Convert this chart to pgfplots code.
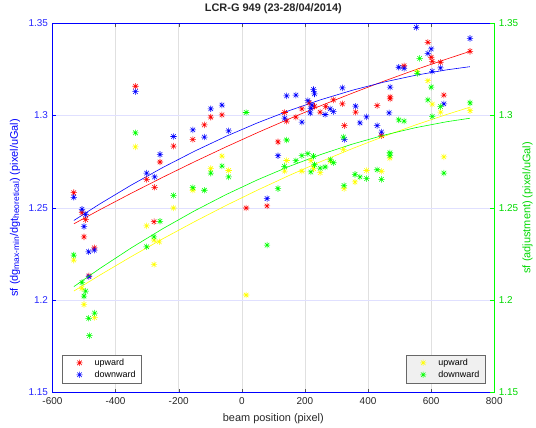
\documentclass[border=0pt]{standalone}
\usepackage{pgfplots}
\pgfplotsset{compat=1.18}
\usepackage{fontspec}
\setmainfont{Liberation Sans}
\usetikzlibrary{calc}
\definecolor{mred}{rgb}{1,0,0}
\definecolor{mblue}{rgb}{0,0,1}
\definecolor{mgreen}{rgb}{0,1,0}
\definecolor{myellow}{rgb}{1,1,0}
\definecolor{framegray}{rgb}{0.15,0.15,0.15}
\pgfdeclareplotmark{mstar}{%
 \pgfpathmoveto{\pgfqpoint{-\pgfplotmarksize}{0pt}}\pgfpathlineto{\pgfqpoint{\pgfplotmarksize}{0pt}}%
 \pgfpathmoveto{\pgfqpoint{0pt}{-\pgfplotmarksize}}\pgfpathlineto{\pgfqpoint{0pt}{\pgfplotmarksize}}%
 \pgfpathmoveto{\pgfqpoint{-0.7071\pgfplotmarksize}{-0.7071\pgfplotmarksize}}\pgfpathlineto{\pgfqpoint{0.7071\pgfplotmarksize}{0.7071\pgfplotmarksize}}%
 \pgfpathmoveto{\pgfqpoint{-0.7071\pgfplotmarksize}{0.7071\pgfplotmarksize}}\pgfpathlineto{\pgfqpoint{0.7071\pgfplotmarksize}{-0.7071\pgfplotmarksize}}%
 \pgfusepathqstroke}
\pgfplotsset{
  mk/.style={only marks, mark=mstar, mark size=3.2pt, line width=0.55pt, mark options={solid}},
  every tick label/.append style={font=\fontsize{10}{12}\selectfont},
  mylegimg/.style={legend image code/.code={\draw[##1] plot coordinates {(13pt,0pt)}; \path (0pt,0pt) (26pt,0pt);}},
}
\begin{document}
\begin{tikzpicture}
\begin{axis}[name=main, at={(0,0)}, anchor=south west,
  width=444pt, height=371.3pt, scale only axis,
  xmin=-600, xmax=800, ymin=1.15, ymax=1.35,
  xtick={-600,-400,-200,0,200,400,600,800},
  xticklabels={-600,-400,-200,0,200,400,600,800},
  ytick={1.15,1.2,1.25,1.3,1.35},
  yticklabels={1.15,1.2,1.25,1.3,1.35},
  ytick pos=left, xtick pos=both, tick align=inside,
  major tick length=4pt,
  xmajorgrids, ymajorgrids,
  x grid style={black!12, line width=0.5pt},
  y grid style={mblue!12, line width=0.5pt},
  x axis line style={framegray!70},
  y axis line style={mblue},
  x tick style={framegray!80},
  y tick style={mblue},
  yticklabel style={text=mblue!85, xshift=-1pt},
  xticklabel style={text=framegray, yshift=-1.5pt},
  title={LCR-G 949 (23-28/04/2014)},
  title style={font=\fontsize{11}{13}\selectfont\bfseries, at={(rel axis cs:0.5,1)}, anchor=center, yshift=8.5pt, text=framegray},
  xlabel={beam position (pixel)},
  xlabel style={font=\fontsize{11}{13}\selectfont, at={(rel axis cs:0.5,0)}, anchor=center, yshift=-26.5pt, text=framegray},
  ylabel={sf (dg{\fontsize{8.5}{10}\selectfont\raisebox{-0.3ex}{max-min}}/dgt{\fontsize{8.5}{10}\selectfont\raisebox{-0.3ex}{heoretical}}) (pixel/uGal)},
  ylabel style={font=\fontsize{11}{13}\selectfont, at={(rel axis cs:0,0.5)}, anchor=center, yshift=37.7pt, text=mblue},
  mylegimg,
  legend style={at={(0.022,0.026)}, anchor=south west, draw=framegray!70, fill=white,
    font=\fontsize{9}{11}\selectfont, cells={anchor=west}, row sep=0pt, inner xsep=4pt, inner ysep=2pt},
  clip=false,
]
\addplot[mk, mred] coordinates {
(-532.5,1.2582) (-506.4,1.2474) (-494.7,1.2436) (-500,1.2343) (-467.3,1.2283) (-484.3,1.2132)
(-337,1.3158) (-301.4,1.2654) (-276.2,1.2611) (-259.2,1.2748) (-216.3,1.2834) (-155.2,1.2870)
(-118.6,1.2949) (-98.4,1.2991) (-62.8,1.3003) (-278.1,1.2425) (13.8,1.2499) (80,1.2510)
(114.7,1.2857) (135.8,1.3016) (142.1,1.2969) (171.5,1.2991) (190.4,1.3036) (213.7,1.3068)
(230.4,1.3050) (248.4,1.3018) (266.1,1.3048) (290.3,1.3084) (318.7,1.3063) (325,1.2945)
(360.6,1.3018) (429,1.3053) (442.6,1.2891) (470,1.3100) (470,1.3090) (514.2,1.3269)
(589.8,1.3396) (600.2,1.3315) (603.4,1.3293) (629.8,1.3288) (640.3,1.3110) (723.2,1.3347)
};
\addlegendentry{upward}
\addplot[mk, mblue] coordinates {
(-532.5,1.2557) (-506.4,1.2492) (-494.7,1.2463) (-500,1.2399) (-485.2,1.2262) (-467.3,1.2271)
(-484.3,1.2127) (-337,1.3129) (-301.4,1.2688) (-276.2,1.2667) (-259.2,1.2789) (-216.3,1.2886)
(-155.2,1.2922) (-118.6,1.2883) (-98.4,1.3036) (-62.8,1.3056) (-41.7,1.2917) (80,1.2550)
(114.7,1.2782) (135.8,1.2985) (142.1,1.3106) (171.5,1.3110) (190.4,1.2964) (209.3,1.3080)
(216.9,1.3014) (218.8,1.3039) (221.9,1.3057) (227.3,1.3140) (230.4,1.3117) (264.1,1.3005)
(279.9,1.3036) (290.3,1.3021) (318.7,1.3149) (325,1.2870) (360.6,1.3050) (374.5,1.2960)
(395.3,1.2992) (429,1.2945) (442.6,1.2910) (466.9,1.3014) (470,1.3153) (497.4,1.3261)
(514.2,1.3255) (553,1.3477) (589.8,1.3336) (600.2,1.3360) (603.4,1.3239) (629.8,1.3257)
(640.3,1.3063) (723.2,1.3417)
};
\addlegendentry{downward}
\addplot[mred, line width=0.6pt, forget plot] coordinates {
(-532,1.24135) (-450,1.24894) (-350,1.25791) (-250,1.26657) (-150,1.27493) (-50,1.28297)
(50,1.29071) (150,1.29813) (250,1.30525) (350,1.31205) (450,1.31854) (550,1.32473)
(650,1.33059) (723,1.33469)
};
\addplot[mblue, line width=0.6pt, forget plot] coordinates {
(-532,1.24316) (-450,1.25209) (-350,1.26233) (-250,1.27185) (-150,1.28063) (-50,1.28869)
(50,1.29601) (150,1.30261) (250,1.30849) (350,1.31363) (450,1.31805) (550,1.32173)
(650,1.32470) (723,1.32640)
};
\end{axis}
\begin{axis}[at={(0,0)}, anchor=south west,
  width=444pt, height=371.3pt, scale only axis,
  xmin=-600, xmax=800, ymin=1.15, ymax=1.35,
  axis x line=none, axis y line*=right,
  ytick={1.15,1.2,1.25,1.3,1.35},
  yticklabels={1.15,1.2,1.25,1.3,1.35},
  tick align=inside, major tick length=4pt,
  y axis line style={mgreen},
  y tick style={mgreen},
  yticklabel style={text=mgreen!85!black, xshift=1pt},
  ylabel={sf (adjustment) (pixel/uGal)},
  ylabel style={font=\fontsize{11}{13}\selectfont, at={(rel axis cs:1,0.5)}, anchor=center, yshift=-33.5pt, text=mgreen!85!black},
  mylegimg,
  legend style={at={(0.980,0.026)}, anchor=south east, draw=framegray!70, fill=black!6,
    font=\fontsize{9}{11}\selectfont, cells={anchor=west}, row sep=0pt, inner xsep=4pt, inner ysep=2pt},
  clip=false,
]
\addplot[mk, myellow] coordinates {
(-532.5,1.2217) (-506.4,1.2064) (-500,1.1977) (-466.4,1.1906) (-337,1.2830) (-301.4,1.2402)
(-278.1,1.2325) (-261.4,1.2316) (-278.1,1.2193) (-216.3,1.2499) (-155.2,1.2595) (-98.4,1.2712)
(-62.8,1.2780) (-41.7,1.2702) (13.8,1.2028) (135.8,1.2699) (142.1,1.2756) (190.4,1.2698)
(218.8,1.2755) (227.3,1.2712) (248.4,1.2690) (281,1.2752) (321.8,1.2816) (324,1.2604)
(358.7,1.2640) (395.3,1.2702) (442.6,1.2698) (469,1.2769) (556.1,1.3237) (589.8,1.3188)
(603.4,1.3061) (629.8,1.3018) (640.3,1.2776) (723.2,1.3026)
};
\addlegendentry{upward}
\addplot[mk, mgreen] coordinates {
(-532.5,1.2244) (-506.4,1.2096) (-494.7,1.2049) (-500,1.2022) (-466.4,1.1930) (-485.2,1.1902)
(-483,1.1808) (-337,1.2906) (-301.4,1.2289) (-278.1,1.2343) (-259.2,1.2427) (-216.3,1.2567)
(-155.2,1.2609) (-118.6,1.2595) (-98.4,1.2688) (-62.8,1.2726) (-41.7,1.2667) (13.8,1.3016)
(80,1.2298) (114.7,1.2604) (142.1,1.2867) (134.8,1.2724) (171.5,1.2755) (190.4,1.2782)
(209.3,1.2793) (227.3,1.2779) (218.8,1.2694) (230.4,1.2733) (248.4,1.2715) (264.1,1.2721)
(281,1.2760) (290.3,1.2744) (321.8,1.2883) (324,1.2621) (358.7,1.2681) (374.5,1.2667)
(395.3,1.2658) (429,1.2706) (442.6,1.2654) (469.3,1.2798) (469.3,1.2783) (497.4,1.2976)
(514.2,1.2969) (556.1,1.3228) (563.7,1.3309) (600.2,1.3153) (589.8,1.3084) (603.4,1.2994)
(629.8,1.3048) (640.3,1.2688) (723.2,1.3068)
};
\addlegendentry{downward}
\addplot[myellow, line width=0.6pt, forget plot] coordinates {
(-532,1.20495) (-450,1.21354) (-350,1.22362) (-250,1.23327) (-150,1.24247) (-50,1.25126)
(50,1.25960) (150,1.26751) (250,1.27499) (350,1.28204) (450,1.28864) (550,1.29482)
(650,1.30056) (723,1.30448)
};
\addplot[mgreen, line width=0.6pt, forget plot] coordinates {
(-532,1.20735) (-450,1.21713) (-350,1.22833) (-250,1.23873) (-150,1.24834) (-50,1.25715)
(50,1.26517) (150,1.27240) (250,1.27883) (350,1.28447) (450,1.28931) (550,1.29336)
(650,1.29662) (723,1.29849)
};
\end{axis}
\path ($(main.south west)+(-52.7pt,-33.5pt)$) rectangle ($(main.north east)+(39.3pt,23.2pt)$);
\end{tikzpicture}
\end{document}
